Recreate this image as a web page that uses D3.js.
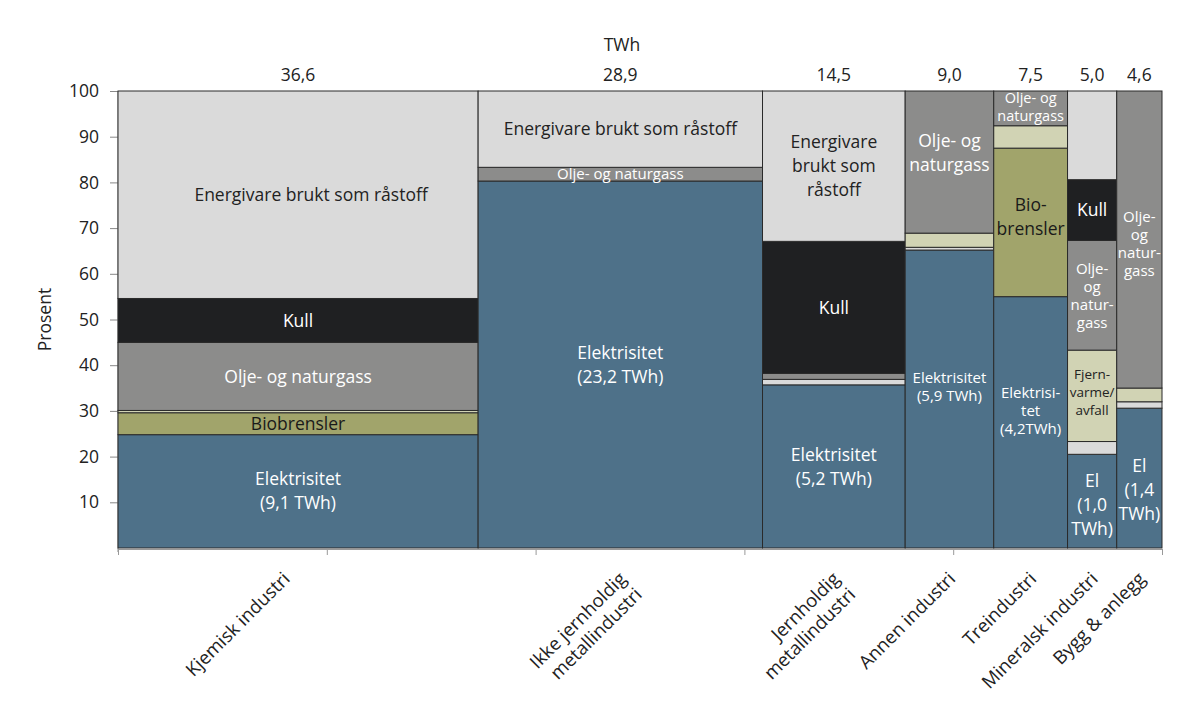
<!DOCTYPE html>
<html>
<head>
<meta charset="utf-8">
<script src="https://cdn.jsdelivr.net/npm/d3@7"></script>
<style>
  body { margin: 0; background: #fff; }
  svg { display: block; font-family: "Open Sans", "Noto Sans", sans-serif; }
</style>
</head>
<body>
<svg id="chart" width="1200" height="709"></svg>
<script>
// ---------------- DATA ----------------
const categories = ["Kjemisk industri", "Ikke jernholdig metallindustri", "Jernholdig metallindustri",
  "Annen industri", "Treindustri", "Mineralsk industri", "Bygg & anlegg"];
const categoryLines = [["Kjemisk industri"], ["Ikke jernholdig", "metallindustri"], ["Jernholdig", "metallindustri"],
  ["Annen industri"], ["Treindustri"], ["Mineralsk industri"], ["Bygg & anlegg"]];
const twh = [36.6, 28.9, 14.5, 9.0, 7.5, 5.0, 4.6];
const twhLabels = ["36,6", "28,9", "14,5", "9,0", "7,5", "5,0", "4,6"];
const yTicks = [10, 20, 30, 40, 50, 60, 70, 80, 90, 100];

const seriesNames = ["Elektrisitet", "Annet", "Biobrensler", "Fjernvarme/avfall",
  "Olje- og naturgass", "Kull", "Energivare brukt som råstoff"];
const elektrisitet = [24.8, 80.3, 35.7, 65.2, 55.0, 20.5, 30.6];
const annet        = [0.0, 0.0, 1.2, 0.6, 0.0, 2.8, 1.4];
const biobrensler  = [4.8, 0.0, 0.0, 0.0, 32.5, 0.0, 0.0];
const fjernvarme   = [0.5, 0.0, 0.0, 3.1, 4.9, 20.0, 3.0];
const oljeGass     = [14.9, 3.0, 1.3, 31.1, 7.6, 24.0, 65.0];
const kull         = [9.6, 0.0, 28.9, 0.0, 0.0, 13.3, 0.0];
const raastoff     = [45.4, 16.7, 32.9, 0.0, 0.0, 19.4, 0.0];
const seriesValues = [elektrisitet, annet, biobrensler, fjernvarme, oljeGass, kull, raastoff];

// segment labels: [column index, series index, text lines]
const segmentLabels = [
  [0, 6, ["Energivare brukt som råstoff"]],
  [0, 5, ["Kull"]],
  [0, 4, ["Olje- og naturgass"]],
  [0, 2, ["Biobrensler"]],
  [0, 0, ["Elektrisitet", "(9,1 TWh)"]],
  [1, 6, ["Energivare brukt som råstoff"]],
  [1, 4, ["Olje- og naturgass"]],
  [1, 0, ["Elektrisitet", "(23,2 TWh)"]],
  [2, 6, ["Energivare", "brukt som", "råstoff"]],
  [2, 5, ["Kull"]],
  [2, 0, ["Elektrisitet", "(5,2 TWh)"]],
  [3, 4, ["Olje- og", "naturgass"]],
  [3, 0, ["Elektrisitet", "(5,9 TWh)"]],
  [4, 4, ["Olje- og", "naturgass"]],
  [4, 2, ["Bio-", "brensler"]],
  [4, 0, ["Elektrisi-", "tet", "(4,2TWh)"]],
  [5, 5, ["Kull"]],
  [5, 4, ["Olje-", "og", "natur-", "gass"]],
  [5, 3, ["Fjern-", "varme/", "avfall"]],
  [5, 0, ["El", "(1,0", "TWh)"]],
  [6, 4, ["Olje-", "og", "natur-", "gass"]],
  [6, 0, ["El", "(1,4", "TWh)"]]
];

// ---------------- STYLE ----------------
const colors = ["#4e7189", "#dadada", "#a1a46b", "#d1d3b4", "#8c8c8b", "#1f2022", "#dadada"];
const textColors = ["#ffffff", "#222222", "#1a1a1a", "#222222", "#ffffff", "#ffffff", "#222222"];
const smallLabels = { "1-4": 15, "3-0": 15, "4-4": 14.5, "4-0": 15, "5-4": 15, "6-4": 15, "5-3": 13.5 };
const labelNudge = { "3-4": -9, "3-0": -12, "4-0": -12, "4-2": -6, "4-4": -1, "5-3": -4, "5-0": 4, "6-0": 12, "6-4": 4 };
const labelNudgeX = { "0-6": 13 };
const categoryNudgeX = [-14, 0, 0, 0, 0, 0, 0];
const defaultLabelSize = 17.5;
const baseFont = 17.5;

// ---------------- CHART ----------------
const svg = d3.select("#chart");
const total = d3.sum(twh);
const x = d3.scaleLinear().domain([0, total]).range([118, 1162]);
const y = d3.scaleLinear().domain([0, 100]).range([548, 91]);
const cum = d3.cumsum(twh);
const x0 = twh.map((d, i) => i === 0 ? 0 : cum[i - 1]);

// build stacked segments
const segments = [];
categories.forEach((c, ci) => {
  let base = 0;
  seriesValues.forEach((arr, si) => {
    const v = arr[ci];
    segments.push({ ci, si, y0: base, y1: base + v, v });
    base += v;
  });
});

// axes
const yAxis = d3.axisLeft(y).tickValues(yTicks).tickSize(8).tickPadding(11);
const gy = svg.append("g").attr("transform", "translate(118,0)").call(yAxis);
gy.select(".domain").attr("stroke", "#888").attr("d", `M0,${y(100)}V${y(0) + 4}`);
gy.selectAll(".tick line").attr("stroke", "#888");
gy.selectAll(".tick text").attr("font-size", baseFont).attr("fill", "#222")
  .attr("font-family", "'Open Sans', sans-serif");

const xPct = d3.scaleLinear().domain([0, 100]).range([118, 1162]);
const xAxis = d3.axisBottom(xPct).tickValues([0, 20, 40, 60, 80, 100]).tickSize(6).tickFormat("");
const gx = svg.append("g").attr("transform", `translate(0,${y(0) + 1})`).call(xAxis);
gx.select(".domain").attr("stroke", "#999");
gx.selectAll(".tick line").attr("stroke", "#999");

// bars
svg.append("g").selectAll("rect")
  .data(segments.filter(d => d.v > 0))
  .join("rect")
  .attr("x", d => x(x0[d.ci]))
  .attr("width", d => x(x0[d.ci] + twh[d.ci]) - x(x0[d.ci]))
  .attr("y", d => y(d.y1))
  .attr("height", d => y(d.y0) - y(d.y1))
  .attr("fill", d => colors[d.si])
  .attr("stroke", "#2a2a2a")
  .attr("stroke-width", 1);

// segment labels
const lblG = svg.append("g").attr("text-anchor", "middle");
segmentLabels.forEach(([ci, si, lines]) => {
  const seg = segments.find(s => s.ci === ci && s.si === si);
  const key = `${ci}-${si}`;
  const cx = x(x0[ci] + twh[ci] / 2) + (labelNudgeX[key] || 0);
  const cy = y((seg.y0 + seg.y1) / 2) + (labelNudge[key] || 0);
  const fs = smallLabels[key] || defaultLabelSize;
  const lh = smallLabels[key] ? 18 : 24;
  const t = lblG.append("text")
    .attr("font-size", fs)
    .attr("fill", textColors[si]);
  const startY = cy - (lines.length - 1) * lh / 2 + fs * 0.35;
  lines.forEach((ln, k) => {
    t.append("tspan").attr("x", cx).attr("y", startY + k * lh).text(ln);
  });
});

// TWh header
svg.append("text").attr("x", 622).attr("y", 51).attr("text-anchor", "middle")
  .attr("font-size", baseFont).attr("fill", "#222").text("TWh");
svg.append("g").selectAll("text").data(twhLabels).join("text")
  .attr("x", (d, i) => x(x0[i] + twh[i] / 2))
  .attr("y", 81)
  .attr("text-anchor", "middle")
  .attr("font-size", baseFont).attr("fill", "#222")
  .text(d => d);

// y title
svg.append("text")
  .attr("transform", `translate(51,${y(50)}) rotate(-90)`)
  .attr("text-anchor", "middle")
  .attr("font-size", baseFont).attr("fill", "#222")
  .text("Prosent");

// category labels
categoryLines.forEach((lines, i) => {
  const cx = x(x0[i] + twh[i] / 2) + categoryNudgeX[i];
  const g = svg.append("text")
    .attr("transform", `translate(${cx + 7},${580}) rotate(-45)`)
    .attr("text-anchor", "end")
    .attr("font-size", 18.5)
    .attr("fill", "#222");
  lines.forEach((ln, k) => {
    g.append("tspan").attr("x", 0).attr("dy", k === 0 ? 0 : "1.2em").text(ln);
  });
});
</script>
</body>
</html>
